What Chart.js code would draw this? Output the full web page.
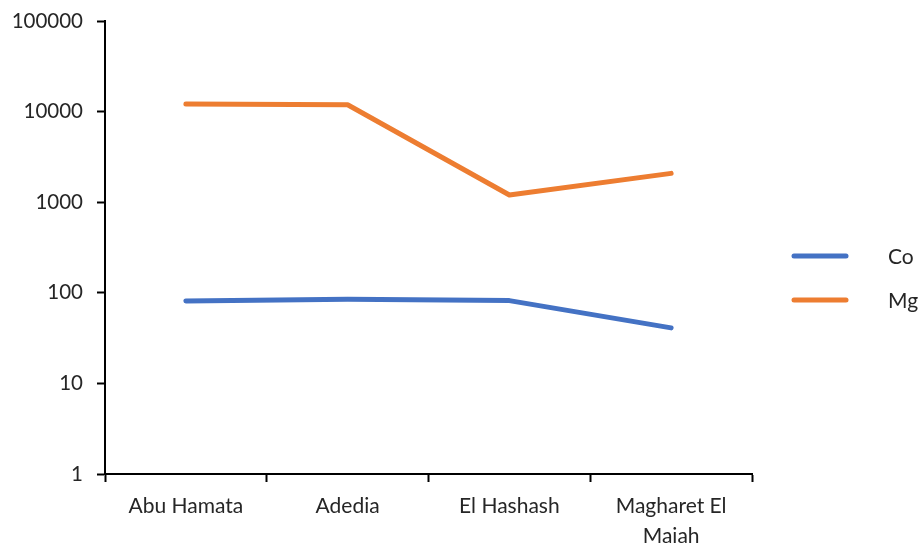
<!DOCTYPE html>
<html>
<head>
<meta charset="utf-8">
<script src="https://cdn.jsdelivr.net/npm/chart.js@4/dist/chart.umd.min.js"></script>
<style>
  html, body { margin: 0; padding: 0; background: #ffffff; }
  #wrap { width: 922px; height: 546px; position: relative; }
</style>
</head>
<body>
<div id="wrap"><canvas id="chart"></canvas></div>
<script>
// Sampling sites
const sites = ['Abu Hamata', 'Adedia', 'El Hashash', ['Magharet El', 'Maiah']];

// Element concentrations per site
const coValues = [81, 85, 82, 41];
const mgValues = [12100, 11900, 1200, 2080];

// Decade ticks of the logarithmic axis
const yTickValues = [1, 10, 100, 1000, 10000, 100000];
const yTickLabels = ['1', '10', '100', '1000', '10000', '100000'];

const FONT = 'Lato, "Open Sans", sans-serif';

// Legend drawn as short line swatches to the right of the plot
const sideLegend = {
  id: 'sideLegend',
  afterDraw(chart) {
    const ctx = chart.ctx;
    ctx.save();
    chart.data.datasets.forEach((ds, i) => {
      const y = 256 + i * 44;
      ctx.strokeStyle = ds.borderColor;
      ctx.lineWidth = 5;
      ctx.lineCap = 'round';
      ctx.beginPath();
      ctx.moveTo(794, y);
      ctx.lineTo(846, y);
      ctx.stroke();
      ctx.fillStyle = '#262626';
      ctx.font = '21px ' + FONT;
      ctx.textBaseline = 'middle';
      ctx.textAlign = 'left';
      ctx.fillText(ds.label, 888, y + 1);
    });
    ctx.restore();
  }
};

new Chart(document.getElementById('chart'), {
  type: 'line',
  data: {
    labels: sites,
    datasets: [
      { label: 'Co', data: coValues, borderColor: '#4472C4', backgroundColor: '#4472C4' },
      { label: 'Mg', data: mgValues, borderColor: '#ED7D31', backgroundColor: '#ED7D31' }
    ]
  },
  options: {
    responsive: true,
    maintainAspectRatio: false,
    animation: false,
    layout: { padding: { top: 21, right: 170, bottom: 0, left: 0 } },
    elements: {
      line: { borderWidth: 5, tension: 0, borderCapStyle: 'round', borderJoinStyle: 'round' },
      point: { radius: 0, hoverRadius: 0 }
    },
    plugins: {
      legend: { display: false },
      tooltip: { enabled: false }
    },
    scales: {
      x: {
        type: 'category',
        offset: true,
        grid: {
          offset: true,
          drawOnChartArea: false,
          drawTicks: true,
          tickLength: 8,
          tickWidth: 2,
          tickColor: '#000000'
        },
        border: { display: true, color: '#000000', width: 2 },
        ticks: {
          color: '#262626',
          font: { family: FONT, size: 21, lineHeight: 1.45 },
          padding: 9,
          maxRotation: 0,
          autoSkip: false
        },
        afterFit(scale) { scale.height = 72; }
      },
      y: {
        type: 'logarithmic',
        min: 1,
        max: 100000,
        grid: {
          drawOnChartArea: false,
          drawTicks: true,
          tickLength: 8,
          tickWidth: 2,
          tickColor: '#000000'
        },
        border: { display: true, color: '#000000', width: 2 },
        afterBuildTicks(scale) {
          scale.ticks = yTickValues.map(v => ({ value: v }));
        },
        ticks: {
          color: '#262626',
          font: { family: FONT, size: 20.5 },
          padding: 14,
          callback(value) {
            const i = yTickValues.indexOf(value);
            return i >= 0 ? yTickLabels[i] : '';
          }
        },
        afterFit(scale) {
          scale.width = 105;
          scale.paddingTop = 0;
          scale.paddingBottom = 0;
        }
      }
    }
  },
  plugins: [sideLegend]
});
</script>
</body>
</html>
